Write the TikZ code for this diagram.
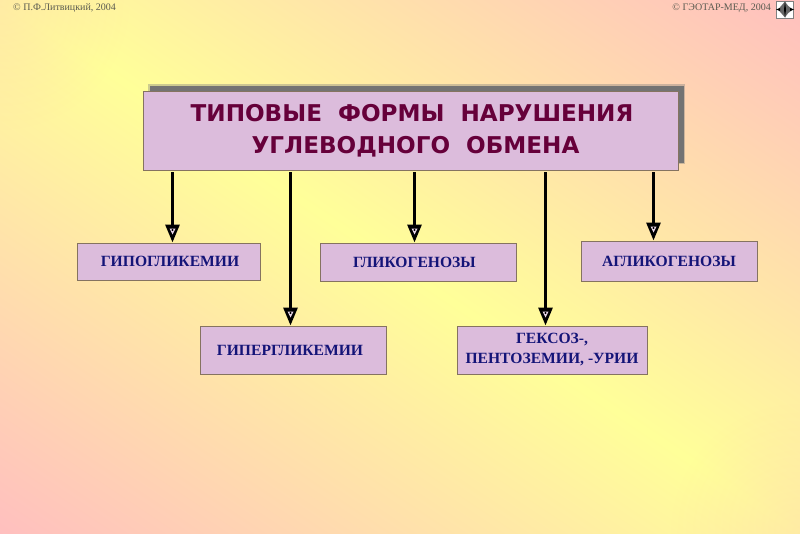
\documentclass[tikz,border=0pt]{standalone}
\usepackage{fontspec}
\setmainfont{Liberation Serif}
\newfontfamily\titlefont{DejaVu Sans}
\usetikzlibrary{arrows.meta,fadings}
\definecolor{bgpink}{HTML}{FFBFBF}
\definecolor{bgyellow}{HTML}{FFFF99}
\definecolor{boxfill}{HTML}{DCBCDC}
\definecolor{boxline}{HTML}{857360}
\definecolor{titletext}{HTML}{66003A}
\definecolor{labeltext}{HTML}{141478}
\definecolor{notetext}{HTML}{5A5A50}
\pgfdeclareverticalshading{pagefade}{1400bp}{
	color(0bp)=(bgpink);
	color(56bp)=(bgpink);
	color(500bp)=(bgyellow);
	color(944bp)=(bgpink);
	color(1000bp)=(bgpink)
}
\tikzfading[name=cornerfade, inner color=transparent!0, outer color=transparent!100]
\tikzset{
	every group/.style={
		draw=boxline,
		fill=boxfill,
		line width=1pt,
		inner sep=0pt,
		align=center,
		font=\bfseries\fontsize{15.6}{20}\selectfont,
		text=labeltext
	},
	every note/.style={
		font=\fontsize{10}{12}\selectfont,
		text=notetext,
		inner sep=0pt
	},
	branch/.style={
		line width=3pt,
		-{Triangle[length=18pt,width=14pt]}
	},
	corner/.style={
		fill=bgpink,
		opacity=0.3,
		path fading=cornerfade
	},
}

\begin{document}
\begin{tikzpicture}[x=1pt, y=-1pt]

\useasboundingbox (0,0) rectangle (800,533);
\begin{scope}
	\clip (0,0) rectangle (800,533);
	\node [inner sep=0pt, rotate=-33.7] (page) at (400,266.5) {\pgfuseshading{pagefade}};
	\path [corner] (0,0) circle (130);
	\path [corner] (800,533) circle (130);
\end{scope}

\node [every note, anchor=west] (note-left) at (13,8.5) {© П.Ф.Литвицкий, 2004};
\node [every note, anchor=east] (note-right) at (771,8.5) {© ГЭОТАР-МЕД, 2004};

% navigation icon
\node [draw=gray, fill=white, minimum size=17pt, inner sep=0pt] (nav) at (784.5,9.5) {};
\fill [gray!80!black] (785,1.5) .. controls (788,6) .. (793,9.5) .. controls (788,13) .. (785,17.5) .. controls (782,13) .. (778,9.5) .. controls (782,6) .. cycle;
\fill [black] (776,9.5) -- (780,8) -- (780,11) -- cycle (794,9.5) -- (790,8) -- (790,11) -- cycle (785,1.5) -- (786,9.5) -- (785,17.5) -- (784,9.5) -- cycle;

% soft shadow
\fill [gray, opacity=0.4] (148,84) rectangle (685,164);
\fill [black!55] (149.5,85.5) rectangle (683.5,162.5);
\node [every group, minimum width=535pt, minimum height=79pt, font=\titlefont\bfseries\fontsize{23.1}{32}\selectfont, text=titletext] (root) at (410.5,130.5) {\hspace*{3pt}ТИПОВЫЕ\ \ ФОРМЫ\ \ НАРУШЕНИЯ\\\hspace*{10pt}УГЛЕВОДНОГО\ \ ОБМЕНА};

\node [every group, minimum width=183pt, minimum height=37pt] (group-1) at (168.5,261.5) {\hspace*{3pt}ГИПОГЛИКЕМИИ};
\node [every group, minimum width=186pt, minimum height=48pt] (group-2) at (293,350) {ГИПЕРГЛИКЕМИИ\kern6pt};
\node [every group, minimum width=196pt, minimum height=38pt] (group-3) at (418,262) {ГЛИКОГЕНОЗЫ\kern7pt};
\node [every group, minimum width=190pt, minimum height=48pt] (group-4) at (552,350) {ГЕКСОЗ-,\\ПЕНТОЗЕМИИ, -УРИИ};
\node [every group, minimum width=176pt, minimum height=40pt] (group-5) at (669,261) {АГЛИКОГЕНОЗЫ};

\foreach \x [count=\i] in {172.5,290.5,414.5,545.5,653.5} {
	\coordinate (start-\i) at (\x,172);
	\coordinate (end-\i) at (start-\i |- group-\i.north);
	\draw [branch] (start-\i) -- (end-\i);
	\fill [shift={(end-\i)}, boxfill!60!white] (-3,-14) -- (3,-14) -- (0,-8) -- cycle;
	\fill [shift={(end-\i)}, black] (0,-12.5) circle (1.1);
}

\end{tikzpicture}
\end{document}
